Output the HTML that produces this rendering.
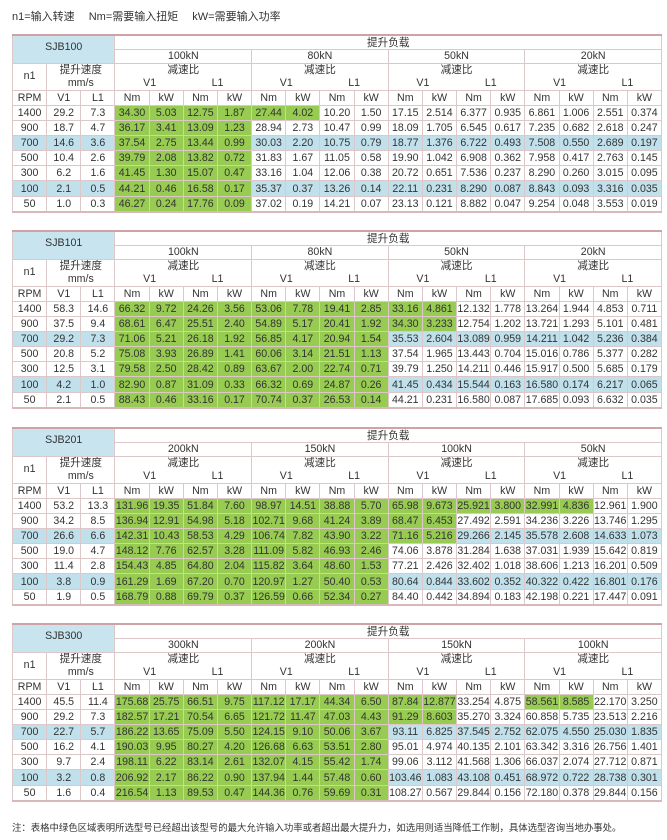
<!DOCTYPE html>
<html><head><meta charset="utf-8">
<style>
body{margin:0;width:667px;height:840px;background:#fff;position:relative;font-family:"Liberation Sans","Noto Sans CJK SC",sans-serif;color:#333;overflow:hidden}
.top{position:absolute;left:12px;top:8px;font-size:11px;color:#333;white-space:pre}
.note{position:absolute;left:12px;top:820px;font-size:9.4px;color:#333;white-space:nowrap}
table{position:absolute;left:12px;width:650px;border-collapse:collapse;table-layout:fixed;font-size:10.6px;border-top:2px solid #cfa3a6;border-bottom:2px solid #d8b8b8}
td{border:1px solid #dcc7c9;text-align:center;padding:0;height:14px;line-height:12px;overflow:hidden;white-space:nowrap}
tr.r1 td{height:13px}
tr.d td{height:14.2px;line-height:12px}
tr.r2 td{height:12.5px;line-height:12px}
td.g{background:#97cb52}
td.b{background:#c0e1eb}
td.h{background:#c7e4ef;vertical-align:top;line-height:22px}
td.r3{height:26px;line-height:12.5px}
.sp{display:flex;justify-content:space-around}
</style></head><body>
<div class="top">n1=输入转速　 Nm=需要输入扭矩　 kW=需要输入功率</div>

<!-- SJB100 -->
<table style="top:34px">
<colgroup><col span="19"></colgroup>
<tr class="r1"><td class="h" colspan="3" rowspan="2">SJB100</td><td colspan="16">提升负载</td></tr>
<tr class="r2"><td colspan="4">100kN</td><td colspan="4">80kN</td><td colspan="4">50kN</td><td colspan="4">20kN</td></tr>
<tr><td class="r3">n1</td><td class="r3" colspan="2">提升速度<br>mm/s</td><td class="r3" colspan="4">减速比<div class="sp"><span>V1</span><span>L1</span></div></td><td class="r3" colspan="4">减速比<div class="sp"><span>V1</span><span>L1</span></div></td><td class="r3" colspan="4">减速比<div class="sp"><span>V1</span><span>L1</span></div></td><td class="r3" colspan="4">减速比<div class="sp"><span>V1</span><span>L1</span></div></td></tr>
<tr><td>RPM</td><td>V1</td><td>L1</td><td>Nm</td><td>kW</td><td>Nm</td><td>kW</td><td>Nm</td><td>kW</td><td>Nm</td><td>kW</td><td>Nm</td><td>kW</td><td>Nm</td><td>kW</td><td>Nm</td><td>kW</td><td>Nm</td><td>kW</td></tr>
<tr class="d"><td>1400</td><td>29.2</td><td>7.3</td><td class="g">34.30</td><td class="g">5.03</td><td class="g">12.75</td><td class="g">1.87</td><td class="g">27.44</td><td class="g">4.02</td><td>10.20</td><td>1.50</td><td>17.15</td><td>2.514</td><td>6.377</td><td>0.935</td><td>6.861</td><td>1.006</td><td>2.551</td><td>0.374</td></tr>
<tr class="d"><td>900</td><td>18.7</td><td>4.7</td><td class="g">36.17</td><td class="g">3.41</td><td class="g">13.09</td><td class="g">1.23</td><td>28.94</td><td>2.73</td><td>10.47</td><td>0.99</td><td>18.09</td><td>1.705</td><td>6.545</td><td>0.617</td><td>7.235</td><td>0.682</td><td>2.618</td><td>0.247</td></tr>
<tr class="d"><td class="b">700</td><td class="b">14.6</td><td class="b">3.6</td><td class="g">37.54</td><td class="g">2.75</td><td class="g">13.44</td><td class="g">0.99</td><td class="b">30.03</td><td class="b">2.20</td><td class="b">10.75</td><td class="b">0.79</td><td class="b">18.77</td><td class="b">1.376</td><td class="b">6.722</td><td class="b">0.493</td><td class="b">7.508</td><td class="b">0.550</td><td class="b">2.689</td><td class="b">0.197</td></tr>
<tr class="d"><td>500</td><td>10.4</td><td>2.6</td><td class="g">39.79</td><td class="g">2.08</td><td class="g">13.82</td><td class="g">0.72</td><td>31.83</td><td>1.67</td><td>11.05</td><td>0.58</td><td>19.90</td><td>1.042</td><td>6.908</td><td>0.362</td><td>7.958</td><td>0.417</td><td>2.763</td><td>0.145</td></tr>
<tr class="d"><td>300</td><td>6.2</td><td>1.6</td><td class="g">41.45</td><td class="g">1.30</td><td class="g">15.07</td><td class="g">0.47</td><td>33.16</td><td>1.04</td><td>12.06</td><td>0.38</td><td>20.72</td><td>0.651</td><td>7.536</td><td>0.237</td><td>8.290</td><td>0.260</td><td>3.015</td><td>0.095</td></tr>
<tr class="d"><td class="b">100</td><td class="b">2.1</td><td class="b">0.5</td><td class="g">44.21</td><td class="g">0.46</td><td class="g">16.58</td><td class="g">0.17</td><td class="b">35.37</td><td class="b">0.37</td><td class="b">13.26</td><td class="b">0.14</td><td class="b">22.11</td><td class="b">0.231</td><td class="b">8.290</td><td class="b">0.087</td><td class="b">8.843</td><td class="b">0.093</td><td class="b">3.316</td><td class="b">0.035</td></tr>
<tr class="d"><td>50</td><td>1.0</td><td>0.3</td><td class="g">46.27</td><td class="g">0.24</td><td class="g">17.76</td><td class="g">0.09</td><td>37.02</td><td>0.19</td><td>14.21</td><td>0.07</td><td>23.13</td><td>0.121</td><td>8.882</td><td>0.047</td><td>9.254</td><td>0.048</td><td>3.553</td><td>0.019</td></tr>
</table>

<!-- SJB101 -->
<table style="top:230px">
<colgroup><col span="19"></colgroup>
<tr class="r1"><td class="h" colspan="3" rowspan="2">SJB101</td><td colspan="16">提升负载</td></tr>
<tr class="r2"><td colspan="4">100kN</td><td colspan="4">80kN</td><td colspan="4">50kN</td><td colspan="4">20kN</td></tr>
<tr><td class="r3">n1</td><td class="r3" colspan="2">提升速度<br>mm/s</td><td class="r3" colspan="4">减速比<div class="sp"><span>V1</span><span>L1</span></div></td><td class="r3" colspan="4">减速比<div class="sp"><span>V1</span><span>L1</span></div></td><td class="r3" colspan="4">减速比<div class="sp"><span>V1</span><span>L1</span></div></td><td class="r3" colspan="4">减速比<div class="sp"><span>V1</span><span>L1</span></div></td></tr>
<tr><td>RPM</td><td>V1</td><td>L1</td><td>Nm</td><td>kW</td><td>Nm</td><td>kW</td><td>Nm</td><td>kW</td><td>Nm</td><td>kW</td><td>Nm</td><td>kW</td><td>Nm</td><td>kW</td><td>Nm</td><td>kW</td><td>Nm</td><td>kW</td></tr>
<tr class="d"><td>1400</td><td>58.3</td><td>14.6</td><td class="g">66.32</td><td class="g">9.72</td><td class="g">24.26</td><td class="g">3.56</td><td class="g">53.06</td><td class="g">7.78</td><td class="g">19.41</td><td class="g">2.85</td><td class="g">33.16</td><td class="g">4.861</td><td>12.132</td><td>1.778</td><td>13.264</td><td>1.944</td><td>4.853</td><td>0.711</td></tr>
<tr class="d"><td>900</td><td>37.5</td><td>9.4</td><td class="g">68.61</td><td class="g">6.47</td><td class="g">25.51</td><td class="g">2.40</td><td class="g">54.89</td><td class="g">5.17</td><td class="g">20.41</td><td class="g">1.92</td><td class="g">34.30</td><td class="g">3.233</td><td>12.754</td><td>1.202</td><td>13.721</td><td>1.293</td><td>5.101</td><td>0.481</td></tr>
<tr class="d"><td class="b">700</td><td class="b">29.2</td><td class="b">7.3</td><td class="g">71.06</td><td class="g">5.21</td><td class="g">26.18</td><td class="g">1.92</td><td class="g">56.85</td><td class="g">4.17</td><td class="g">20.94</td><td class="g">1.54</td><td class="b">35.53</td><td class="b">2.604</td><td class="b">13.089</td><td class="b">0.959</td><td class="b">14.211</td><td class="b">1.042</td><td class="b">5.236</td><td class="b">0.384</td></tr>
<tr class="d"><td>500</td><td>20.8</td><td>5.2</td><td class="g">75.08</td><td class="g">3.93</td><td class="g">26.89</td><td class="g">1.41</td><td class="g">60.06</td><td class="g">3.14</td><td class="g">21.51</td><td class="g">1.13</td><td>37.54</td><td>1.965</td><td>13.443</td><td>0.704</td><td>15.016</td><td>0.786</td><td>5.377</td><td>0.282</td></tr>
<tr class="d"><td>300</td><td>12.5</td><td>3.1</td><td class="g">79.58</td><td class="g">2.50</td><td class="g">28.42</td><td class="g">0.89</td><td class="g">63.67</td><td class="g">2.00</td><td class="g">22.74</td><td class="g">0.71</td><td>39.79</td><td>1.250</td><td>14.211</td><td>0.446</td><td>15.917</td><td>0.500</td><td>5.685</td><td>0.179</td></tr>
<tr class="d"><td class="b">100</td><td class="b">4.2</td><td class="b">1.0</td><td class="g">82.90</td><td class="g">0.87</td><td class="g">31.09</td><td class="g">0.33</td><td class="g">66.32</td><td class="g">0.69</td><td class="g">24.87</td><td class="g">0.26</td><td class="b">41.45</td><td class="b">0.434</td><td class="b">15.544</td><td class="b">0.163</td><td class="b">16.580</td><td class="b">0.174</td><td class="b">6.217</td><td class="b">0.065</td></tr>
<tr class="d"><td>50</td><td>2.1</td><td>0.5</td><td class="g">88.43</td><td class="g">0.46</td><td class="g">33.16</td><td class="g">0.17</td><td class="g">70.74</td><td class="g">0.37</td><td class="g">26.53</td><td class="g">0.14</td><td>44.21</td><td>0.231</td><td>16.580</td><td>0.087</td><td>17.685</td><td>0.093</td><td>6.632</td><td>0.035</td></tr>
</table>

<!-- SJB201 -->
<table style="top:427px">
<colgroup><col span="19"></colgroup>
<tr class="r1"><td class="h" colspan="3" rowspan="2">SJB201</td><td colspan="16">提升负载</td></tr>
<tr class="r2"><td colspan="4">200kN</td><td colspan="4">150kN</td><td colspan="4">100kN</td><td colspan="4">50kN</td></tr>
<tr><td class="r3">n1</td><td class="r3" colspan="2">提升速度<br>mm/s</td><td class="r3" colspan="4">减速比<div class="sp"><span>V1</span><span>L1</span></div></td><td class="r3" colspan="4">减速比<div class="sp"><span>V1</span><span>L1</span></div></td><td class="r3" colspan="4">减速比<div class="sp"><span>V1</span><span>L1</span></div></td><td class="r3" colspan="4">减速比<div class="sp"><span>V1</span><span>L1</span></div></td></tr>
<tr><td>RPM</td><td>V1</td><td>L1</td><td>Nm</td><td>kW</td><td>Nm</td><td>kW</td><td>Nm</td><td>kW</td><td>Nm</td><td>kW</td><td>Nm</td><td>kW</td><td>Nm</td><td>kW</td><td>Nm</td><td>kW</td><td>Nm</td><td>kW</td></tr>
<tr class="d"><td>1400</td><td>53.2</td><td>13.3</td><td class="g">131.96</td><td class="g">19.35</td><td class="g">51.84</td><td class="g">7.60</td><td class="g">98.97</td><td class="g">14.51</td><td class="g">38.88</td><td class="g">5.70</td><td class="g">65.98</td><td class="g">9.673</td><td class="g">25.921</td><td class="g">3.800</td><td class="g">32.991</td><td class="g">4.836</td><td>12.961</td><td>1.900</td></tr>
<tr class="d"><td>900</td><td>34.2</td><td>8.5</td><td class="g">136.94</td><td class="g">12.91</td><td class="g">54.98</td><td class="g">5.18</td><td class="g">102.71</td><td class="g">9.68</td><td class="g">41.24</td><td class="g">3.89</td><td class="g">68.47</td><td class="g">6.453</td><td>27.492</td><td>2.591</td><td>34.236</td><td>3.226</td><td>13.746</td><td>1.295</td></tr>
<tr class="d"><td class="b">700</td><td class="b">26.6</td><td class="b">6.6</td><td class="g">142.31</td><td class="g">10.43</td><td class="g">58.53</td><td class="g">4.29</td><td class="g">106.74</td><td class="g">7.82</td><td class="g">43.90</td><td class="g">3.22</td><td class="g">71.16</td><td class="g">5.216</td><td class="b">29.266</td><td class="b">2.145</td><td class="b">35.578</td><td class="b">2.608</td><td class="b">14.633</td><td class="b">1.073</td></tr>
<tr class="d"><td>500</td><td>19.0</td><td>4.7</td><td class="g">148.12</td><td class="g">7.76</td><td class="g">62.57</td><td class="g">3.28</td><td class="g">111.09</td><td class="g">5.82</td><td class="g">46.93</td><td class="g">2.46</td><td>74.06</td><td>3.878</td><td>31.284</td><td>1.638</td><td>37.031</td><td>1.939</td><td>15.642</td><td>0.819</td></tr>
<tr class="d"><td>300</td><td>11.4</td><td>2.8</td><td class="g">154.43</td><td class="g">4.85</td><td class="g">64.80</td><td class="g">2.04</td><td class="g">115.82</td><td class="g">3.64</td><td class="g">48.60</td><td class="g">1.53</td><td>77.21</td><td>2.426</td><td>32.402</td><td>1.018</td><td>38.606</td><td>1.213</td><td>16.201</td><td>0.509</td></tr>
<tr class="d"><td class="b">100</td><td class="b">3.8</td><td class="b">0.9</td><td class="g">161.29</td><td class="g">1.69</td><td class="g">67.20</td><td class="g">0.70</td><td class="g">120.97</td><td class="g">1.27</td><td class="g">50.40</td><td class="g">0.53</td><td class="b">80.64</td><td class="b">0.844</td><td class="b">33.602</td><td class="b">0.352</td><td class="b">40.322</td><td class="b">0.422</td><td class="b">16.801</td><td class="b">0.176</td></tr>
<tr class="d"><td>50</td><td>1.9</td><td>0.5</td><td class="g">168.79</td><td class="g">0.88</td><td class="g">69.79</td><td class="g">0.37</td><td class="g">126.59</td><td class="g">0.66</td><td class="g">52.34</td><td class="g">0.27</td><td>84.40</td><td>0.442</td><td>34.894</td><td>0.183</td><td>42.198</td><td>0.221</td><td>17.447</td><td>0.091</td></tr>
</table>

<!-- SJB300 -->
<table style="top:623px">
<colgroup><col span="19"></colgroup>
<tr class="r1"><td class="h" colspan="3" rowspan="2">SJB300</td><td colspan="16">提升负载</td></tr>
<tr class="r2"><td colspan="4">300kN</td><td colspan="4">200kN</td><td colspan="4">150kN</td><td colspan="4">100kN</td></tr>
<tr><td class="r3">n1</td><td class="r3" colspan="2">提升速度<br>mm/s</td><td class="r3" colspan="4">减速比<div class="sp"><span>V1</span><span>L1</span></div></td><td class="r3" colspan="4">减速比<div class="sp"><span>V1</span><span>L1</span></div></td><td class="r3" colspan="4">减速比<div class="sp"><span>V1</span><span>L1</span></div></td><td class="r3" colspan="4">减速比<div class="sp"><span>V1</span><span>L1</span></div></td></tr>
<tr><td>RPM</td><td>V1</td><td>L1</td><td>Nm</td><td>kW</td><td>Nm</td><td>kW</td><td>Nm</td><td>kW</td><td>Nm</td><td>kW</td><td>Nm</td><td>kW</td><td>Nm</td><td>kW</td><td>Nm</td><td>kW</td><td>Nm</td><td>kW</td></tr>
<tr class="d"><td>1400</td><td>45.5</td><td>11.4</td><td class="g">175.68</td><td class="g">25.75</td><td class="g">66.51</td><td class="g">9.75</td><td class="g">117.12</td><td class="g">17.17</td><td class="g">44.34</td><td class="g">6.50</td><td class="g">87.84</td><td class="g">12.877</td><td>33.254</td><td>4.875</td><td class="g">58.561</td><td class="g">8.585</td><td>22.170</td><td>3.250</td></tr>
<tr class="d"><td>900</td><td>29.2</td><td>7.3</td><td class="g">182.57</td><td class="g">17.21</td><td class="g">70.54</td><td class="g">6.65</td><td class="g">121.72</td><td class="g">11.47</td><td class="g">47.03</td><td class="g">4.43</td><td class="g">91.29</td><td class="g">8.603</td><td>35.270</td><td>3.324</td><td>60.858</td><td>5.735</td><td>23.513</td><td>2.216</td></tr>
<tr class="d"><td class="b">700</td><td class="b">22.7</td><td class="b">5.7</td><td class="g">186.22</td><td class="g">13.65</td><td class="g">75.09</td><td class="g">5.50</td><td class="g">124.15</td><td class="g">9.10</td><td class="g">50.06</td><td class="g">3.67</td><td class="b">93.11</td><td class="b">6.825</td><td class="b">37.545</td><td class="b">2.752</td><td class="b">62.075</td><td class="b">4.550</td><td class="b">25.030</td><td class="b">1.835</td></tr>
<tr class="d"><td>500</td><td>16.2</td><td>4.1</td><td class="g">190.03</td><td class="g">9.95</td><td class="g">80.27</td><td class="g">4.20</td><td class="g">126.68</td><td class="g">6.63</td><td class="g">53.51</td><td class="g">2.80</td><td>95.01</td><td>4.974</td><td>40.135</td><td>2.101</td><td>63.342</td><td>3.316</td><td>26.756</td><td>1.401</td></tr>
<tr class="d"><td>300</td><td>9.7</td><td>2.4</td><td class="g">198.11</td><td class="g">6.22</td><td class="g">83.14</td><td class="g">2.61</td><td class="g">132.07</td><td class="g">4.15</td><td class="g">55.42</td><td class="g">1.74</td><td>99.06</td><td>3.112</td><td>41.568</td><td>1.306</td><td>66.037</td><td>2.074</td><td>27.712</td><td>0.871</td></tr>
<tr class="d"><td class="b">100</td><td class="b">3.2</td><td class="b">0.8</td><td class="g">206.92</td><td class="g">2.17</td><td class="g">86.22</td><td class="g">0.90</td><td class="g">137.94</td><td class="g">1.44</td><td class="g">57.48</td><td class="g">0.60</td><td class="b">103.46</td><td class="b">1.083</td><td class="b">43.108</td><td class="b">0.451</td><td class="b">68.972</td><td class="b">0.722</td><td class="b">28.738</td><td class="b">0.301</td></tr>
<tr class="d"><td>50</td><td>1.6</td><td>0.4</td><td class="g">216.54</td><td class="g">1.13</td><td class="g">89.53</td><td class="g">0.47</td><td class="g">144.36</td><td class="g">0.76</td><td class="g">59.69</td><td class="g">0.31</td><td>108.27</td><td>0.567</td><td>29.844</td><td>0.156</td><td>72.180</td><td>0.378</td><td>29.844</td><td>0.156</td></tr>
</table>

<div class="note">注：表格中绿色区域表明所选型号已经超出该型号的最大允许输入功率或者超出最大提升力，如选用则适当降低工作制，具体选型咨询当地办事处。</div>
</body></html>
